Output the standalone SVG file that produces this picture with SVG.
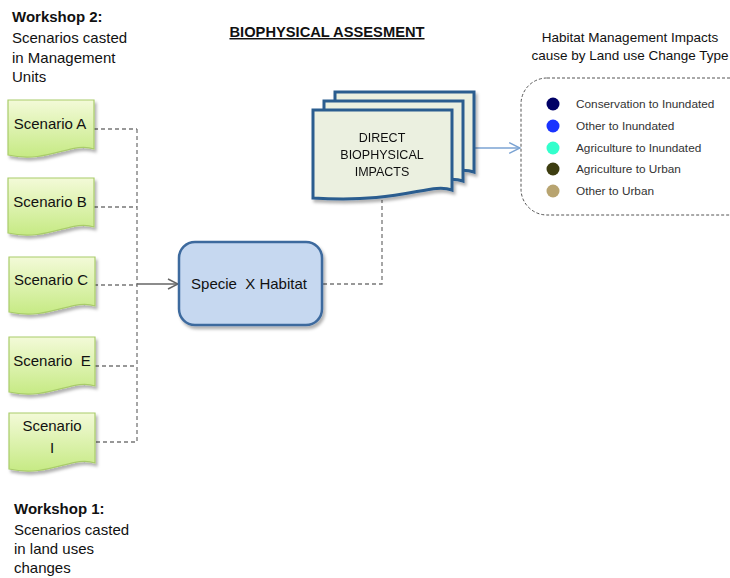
<svg xmlns="http://www.w3.org/2000/svg" width="730" height="578" viewBox="0 0 730 578">
<defs>
<linearGradient id="gGreen" x1="0" y1="0" x2="0" y2="1">
<stop offset="0" stop-color="#f3fad8"/>
<stop offset="1" stop-color="#c6ea84"/>
</linearGradient>
<filter id="sh" x="-10%" y="-10%" width="130%" height="130%">
<feDropShadow dx="2" dy="3" stdDeviation="1.5" flood-color="#000" flood-opacity="0.3"/>
</filter>
<marker id="arrG" viewBox="0 0 12 12" refX="11" refY="6" markerWidth="12" markerHeight="12" markerUnits="userSpaceOnUse" orient="auto">
<path d="M1,1 L11,6 L1,11" fill="none" stroke="#666" stroke-width="1.5"/>
</marker>
<marker id="arrB" viewBox="0 0 12 12" refX="11" refY="6" markerWidth="13" markerHeight="13" markerUnits="userSpaceOnUse" orient="auto">
<path d="M1,1 L11,6 L1,11" fill="none" stroke="#7ba3d3" stroke-width="1.3"/>
</marker>
</defs>
<style>
.t{font-family:"Liberation Sans",Arial,sans-serif;fill:#111}
.hd{font-size:15px}
.b{font-weight:bold}
.sc{font-size:15px;fill:#111;text-anchor:middle}
.scen{fill:url(#gGreen);stroke:#a9cc6a;stroke-width:1.2;filter:url(#sh)}
.dash{fill:none;stroke:#777;stroke-width:1.3;stroke-dasharray:4,3}
.doc{fill:#ebf0e0;stroke:#2c5d8f;stroke-width:3}
.leg{font-size:11.8px;fill:#333}
</style>

<g id="workshop2">
<text class="t hd b" x="12" y="22">Workshop 2:</text>
<text class="t hd" x="12" y="43">Scenarios casted</text>
<text class="t hd" x="12" y="63">in Management</text>
<text class="t hd" x="12" y="82">Units</text>
</g>

<g id="title">
<text class="t b" x="327" y="37" font-size="14.7" text-anchor="middle" text-decoration="underline">BIOPHYSICAL  ASSESMENT</text>
</g>

<g id="workshop1">
<text class="t hd b" x="14" y="514">Workshop 1:</text>
<text class="t hd" x="14" y="535">Scenarios casted</text>
<text class="t hd" x="14" y="554">in land uses</text>
<text class="t hd" x="14" y="573">changes</text>
</g>

<g id="connectors">
<path class="dash" d="M94,129 H137"/>
<path class="dash" d="M94,207 H137"/>
<path class="dash" d="M94,285 H137"/>
<path class="dash" d="M95,366 H137"/>
<path class="dash" d="M96,442 H137"/>
<path class="dash" d="M137,129 V442"/>
<path d="M137,284 H178" fill="none" stroke="#666" stroke-width="1.3" marker-end="url(#arrG)"/>
<path class="dash" d="M323,284 H382 V200"/>
<path d="M474,148 H520" fill="none" stroke="#7ba3d3" stroke-width="1.3" marker-end="url(#arrB)"/>
</g>

<g id="scenarioA">
<path class="scen" d="M8,100 H94 V149 C72,141 48,164 8,155 Z"/>
<text class="t sc" x="50" y="129">Scenario A</text>
</g>
<g id="scenarioB">
<path class="scen" d="M8,178 H94 V227 C72,219 48,242 8,233 Z"/>
<text class="t sc" x="50" y="207">Scenario B</text>
</g>
<g id="scenarioC">
<path class="scen" d="M9,257 H95 V306 C73,298 49,321 9,312 Z"/>
<text class="t sc" x="51" y="285">Scenario C</text>
</g>
<g id="scenarioE">
<path class="scen" d="M9,337 H95 V386 C73,378 49,401 9,392 Z"/>
<text class="t sc" x="52" y="366" xml:space="preserve">Scenario  E</text>
</g>
<g id="scenarioI">
<path class="scen" d="M9,413 H95 V463 C73,455 49,478 9,469 Z"/>
<text class="t sc" x="52" y="431">Scenario</text>
<text class="t sc" x="52" y="453">I</text>
</g>

<g id="habitat">
<rect x="179" y="242" width="143" height="83" rx="16" fill="#c6d8f0" stroke="#3d6a9e" stroke-width="2.5" filter="url(#sh)"/>
<text class="t" x="249" y="289" font-size="15" text-anchor="middle" xml:space="preserve">Specie  X Habitat</text>
</g>

<g id="impacts" filter="url(#sh)">
<path class="doc" d="M335,92 H474 V172 C452,164 424,186 335,180 Z"/>
<path class="doc" d="M324,101 H463 V181 C441,173 413,195 324,189 Z"/>
<path class="doc" d="M313,110 H452 V190 C430,182 402,204 313,198 Z"/>
<text class="t" x="382" y="142" font-size="12.5" fill="#333" text-anchor="middle">DIRECT</text>
<text class="t" x="382" y="159" font-size="12.5" fill="#333" text-anchor="middle">BIOPHYSICAL</text>
<text class="t" x="382" y="176" font-size="12.5" fill="#333" text-anchor="middle">IMPACTS</text>
</g>

<g id="legend">
<text class="t" x="630" y="42" font-size="13.5" fill="#222" text-anchor="middle">Habitat Management Impacts</text>
<text class="t" x="630" y="60" font-size="13.5" fill="#222" text-anchor="middle">cause by Land use Change Type</text>
<rect x="521" y="78" width="240" height="137" rx="26" fill="none" stroke="#555" stroke-width="1" stroke-dasharray="3,2"/>
<circle cx="553" cy="104" r="6.5" fill="#000066"/>
<circle cx="553" cy="126" r="6.5" fill="#1a33ff"/>
<circle cx="553" cy="148" r="6.5" fill="#33ffcc"/>
<circle cx="553" cy="169" r="6.5" fill="#3d3d10"/>
<circle cx="553" cy="191" r="6.5" fill="#b8a470"/>
<text class="t leg" x="576" y="108">Conservation to Inundated</text>
<text class="t leg" x="576" y="130">Other to Inundated</text>
<text class="t leg" x="576" y="152">Agriculture to Inundated</text>
<text class="t leg" x="576" y="173">Agriculture to Urban</text>
<text class="t leg" x="576" y="195">Other to Urban</text>
</g>
</svg>
